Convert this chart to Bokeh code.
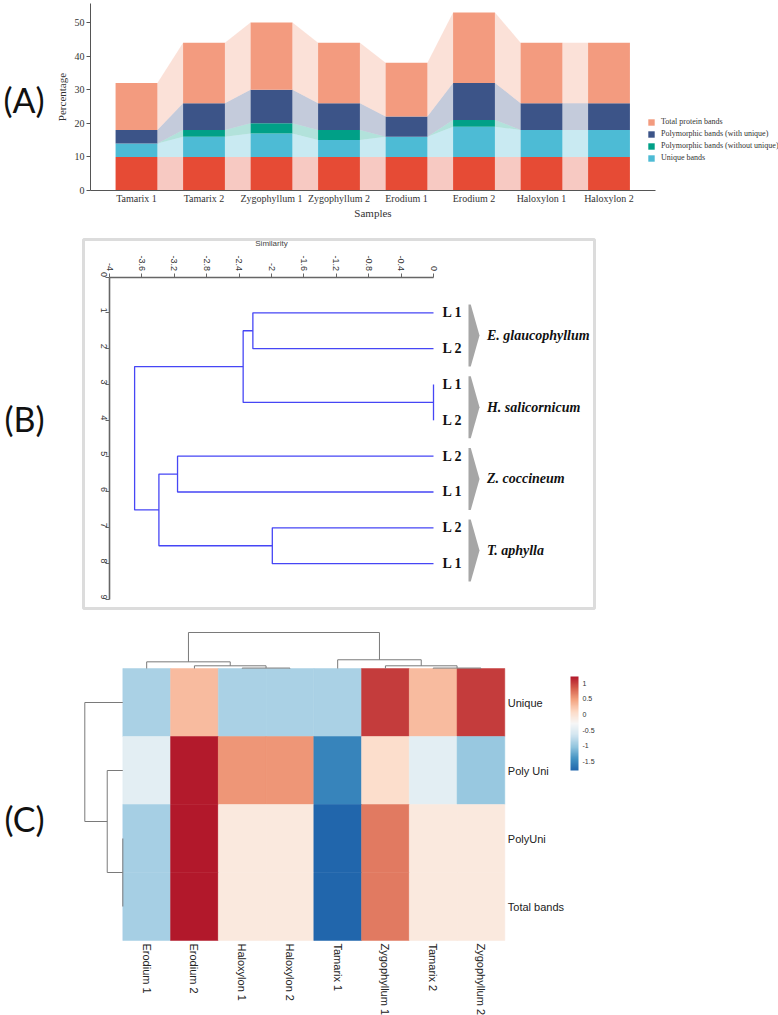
import numpy as np
from bokeh.plotting import figure
from bokeh.models import (Range1d, LinearAxis, FixedTicker, Legend, LegendItem, Label,
                          LinearColorMapper, ColorBar, ColumnDataSource, BoxAnnotation)
from bokeh.layouts import column
from bokeh.core.properties import value
from bokeh.transform import transform
from bokeh.embed import file_html
from bokeh.resources import INLINE

# ---------------- Panel A data ----------------
samples = ["Tamarix 1", "Tamarix 2", "Zygophyllum 1", "Zygophyllum 2",
           "Erodium 1", "Erodium 2", "Haloxylon 1", "Haloxylon 2"]
base_bands = [10, 10, 10, 10, 10, 10, 10, 10]
unique_bands = [4, 6, 7, 5, 6, 9, 8, 8]
poly_without_unique = [0, 2, 3, 3, 0, 2, 0, 0]
poly_with_unique = [4, 8, 10, 8, 6, 11, 8, 8]
total_protein = [14, 18, 20, 18, 16, 21, 18, 18]
y_ticks_a = [0, 10, 20, 30, 40, 50]

# ---------------- Panel B data ----------------
sim_ticks = [-4.0, -3.6, -3.2, -2.8, -2.4, -2.0, -1.6, -1.2, -0.8, -0.4, 0.0]
sim_tick_labels = ["-4", "-3.6", "-3.2", "-2.8", "-2.4", "-2", "-1.6", "-1.2", "-0.8", "-0.4", "0"]
row_ticks_b = [0, 1, 2, 3, 4, 5, 6, 7, 8, 9]
leaf_positions_b = [1, 2, 3, 4, 5, 6, 7, 8]
leaf_labels_b = ["L 1", "L 2", "L 1", "L 2", "L 2", "L 1", "L 2", "L 1"]
# (child a, child b, similarity); leaves 0..7, new nodes 8..
merges_b = [(2, 3, 0.0), (0, 1, -2.23), (9, 8, -2.35), (4, 5, -3.16),
            (6, 7, -1.99), (11, 12, -3.39), (10, 13, -3.69)]
species = ["E. glaucophyllum", "H. salicornicum", "Z. coccineum", "T. aphylla"]
species_first_leaf = [1, 3, 5, 7]
species_last_leaf = [2, 4, 6, 8]

# ---------------- Panel C data ----------------
hm_cols = ["Erodium 1", "Erodium 2", "Haloxylon 1", "Haloxylon 2",
           "Tamarix 1", "Zygophyllum 1", "Tamarix 2", "Zygophyllum 2"]
hm_rows = ["Unique", "Poly Uni", "PolyUni", "Total bands"]
z_unique = [-0.9, 0.3, -0.9, -0.9, -0.9, 1.03, 0.3, 1.03]
z_poly_uni = [-0.48, 1.2, 0.54, 0.54, -1.55, 0.05, -0.48, -1.0]
z_polyuni = [-0.92, 1.22, -0.1, -0.1, -1.8, 0.69, -0.1, -0.1]
z_total = [-0.92, 1.22, -0.1, -0.1, -1.8, 0.69, -0.1, -0.1]
cbar_ticks = [-1.5, -1.0, -0.5, 0.0, 0.5, 1.0]
cbar_labels = ["-1.5", "-1", "-0.5", "0", "0.5", "1"]
col_merges = [(2, 3, 0.05), (1, 8, 0.3), (0, 9, 0.74), (6, 7, 0.05),
              (5, 11, 0.3), (4, 12, 0.97), (10, 13, 4.0)]
row_merges = [(2, 3, 0.0), (1, 4, 1.64), (0, 5, 4.0)]


def dendro_paths(leaf_pos, merges):
    pos = list(leaf_pos)
    hgt = [0.0] * len(leaf_pos)
    P, H = [], []
    for a, b, h in merges:
        P.append([pos[a], pos[a], pos[b], pos[b]])
        H.append([hgt[a], h, h, hgt[b]])
        pos.append((pos[a] + pos[b]) / 2)
        hgt.append(h)
    return P, H


SERIF = "Liberation Serif"
SANS = "Liberation Sans"
W = 778


def base_fig(h, xr, yr):
    p = figure(width=W, height=h, x_range=xr, y_range=yr, output_backend="svg",
               toolbar_location=None, x_axis_location=None, y_axis_location=None,
               min_border_left=0, min_border_right=0, min_border_top=0, min_border_bottom=0)
    p.xgrid.visible = False
    p.ygrid.visible = False
    p.outline_line_color = None
    return p


# =================== Panel A ===================
HA = 220
n = len(samples)
xs = np.arange(n)
pA = base_fig(HA, Range1d(-136 / 67.5, (W - 136) / 67.5), Range1d(-30 / 3.36, 190 / 3.36))

layers = [("base", base_bands, "#E64B35"),
          ("unique", unique_bands, "#4DBBD5"),
          ("pwo", poly_without_unique, "#00A087"),
          ("pw", poly_with_unique, "#3C5488"),
          ("total", total_protein, "#F39B7F")]
bw = 0.62
bottom = np.zeros(n)
renderers = {}
for name, vals, col in layers:
    top = bottom + np.array(vals, dtype=float)
    pxs, pys = [], []
    for i in range(n - 1):
        pxs.append([i + bw / 2, i + bw / 2, i + 1 - bw / 2, i + 1 - bw / 2])
        pys.append([bottom[i], top[i], top[i + 1], bottom[i + 1]])
    pA.patches(pxs, pys, fill_color=col, fill_alpha=0.3, line_color=None)
    renderers[name] = pA.vbar(x=xs, bottom=bottom, top=top, width=bw, fill_color=col, line_color=None)
    bottom = top

xax_a = LinearAxis(fixed_location=0, bounds=(-0.683, 7.683), ticker=FixedTicker(ticks=list(range(n))),
                   major_label_overrides={i: s for i, s in enumerate(samples)}, axis_label="Samples")
yax_a = LinearAxis(fixed_location=-0.683, bounds=(0, 55.6), ticker=FixedTicker(ticks=y_ticks_a),
                   axis_label="Percentage")
for ax in (xax_a, yax_a):
    ax.axis_line_color = "#555555"
    ax.minor_tick_line_color = None
    ax.major_tick_in = 0
    ax.major_label_text_font = SERIF
    ax.major_label_text_font_size = "10px"
    ax.major_label_text_color = "#333333"
    ax.axis_label_text_font = SERIF
    ax.axis_label_text_font_size = "11px"
    ax.axis_label_text_font_style = "normal"
    ax.axis_label_text_color = "#333333"
yax_a.major_tick_out = 4
yax_a.major_tick_line_color = "#555555"
yax_a.major_label_standoff = 2
yax_a.axis_label_standoff = 4
xax_a.major_tick_out = 0
xax_a.major_tick_line_color = None
xax_a.major_label_standoff = 2
xax_a.axis_label_standoff = 0
pA.add_layout(xax_a, "below")
pA.add_layout(yax_a, "left")

legend = Legend(items=[LegendItem(label="Total protein bands", renderers=[renderers["total"]]),
                       LegendItem(label="Polymorphic bands (with unique)", renderers=[renderers["pw"]]),
                       LegendItem(label="Polymorphic bands (without unique)", renderers=[renderers["pwo"]]),
                       LegendItem(label="Unique bands", renderers=[renderers["unique"]])],
                location=(647, 58), glyph_width=8, glyph_height=8, label_height=8,
                spacing=3, padding=0, margin=0, label_standoff=6,
                label_text_font=SERIF, label_text_font_size="8px", label_text_color="#333333",
                border_line_color=None, background_fill_alpha=0)
pA.add_layout(legend)
pA.add_layout(Label(x=3, y=HA - 99, x_units="screen", y_units="screen", text="(A)",
                    text_font="Lato", text_font_size="34px", text_baseline="middle",
                    text_color="#111111"))

# =================== Panel B ===================
HB = 400
pxu, pyu = 81.0, 35.83          # pixels per similarity unit / per row
x0b, y0b = 433.0, 56.5          # pixel of similarity 0 / row 0
pB = base_fig(HB, Range1d(-x0b / pxu, (W - x0b) / pxu), Range1d((HB - y0b) / pyu, -y0b / pyu))
pB.add_layout(BoxAnnotation(left=(83 - x0b) / pxu, right=(594 - x0b) / pxu,
                            top=(19 - y0b) / pyu, bottom=(388 - y0b) / pyu,
                            fill_alpha=0, line_color="#8a8a8a", line_width=3))

top_ax = LinearAxis(fixed_location=0, bounds=(-4, 0), ticker=FixedTicker(ticks=sim_ticks),
                    major_label_overrides={t: s for t, s in zip(sim_ticks, sim_tick_labels)},
                    axis_label="Similarity")
left_ax = LinearAxis(fixed_location=-4, bounds=(0, 9), ticker=FixedTicker(ticks=row_ticks_b))
for ax in (top_ax, left_ax):
    ax.major_label_orientation = -np.pi / 2
    ax.axis_line_color = "#666666"
    ax.axis_line_width = 1.6
    ax.major_tick_line_color = "#666666"
    ax.major_tick_in = 0
    ax.major_tick_out = 4
    ax.minor_tick_line_color = None
    ax.major_label_text_font = SANS
    ax.major_label_text_font_size = "9px"
    ax.major_label_text_color = "#333333"
    ax.major_label_standoff = 2
    ax.axis_label_text_font = SANS
    ax.axis_label_text_font_size = "8px"
    ax.axis_label_text_font_style = "normal"
    ax.axis_label_standoff = 5
pB.add_layout(top_ax, "above")
pB.add_layout(left_ax, "left")

Pb, Hb = dendro_paths(leaf_positions_b, merges_b)
pB.multi_line(xs=Hb, ys=Pb, line_color="#4646F5", line_width=1.3)
pB.text(x=[0.11] * len(leaf_positions_b), y=leaf_positions_b, text=leaf_labels_b,
        text_font=value(SERIF), text_font_style="bold", text_font_size="14px",
        text_baseline="middle", text_align="left", text_color="#111111")
chev_x, chev_y, sp_y = [], [], []
for f, l in zip(species_first_leaf, species_last_leaf):
    t, b = f - 0.23, l + 0.5
    m = (t + b) / 2
    chev_x.append([0.432, 0.46, 0.568, 0.46, 0.432])
    chev_y.append([t, t, m, b, b])
    sp_y.append(m)
pB.patches(chev_x, chev_y, fill_color="#a6a6a6", line_color=None)
pB.text(x=[0.66] * len(species), y=sp_y, text=species, text_font=value(SERIF),
        text_font_style="bold italic", text_font_size="14px", text_baseline="middle",
        text_align="left", text_color="#111111")
pB.add_layout(Label(x=4, y=HB - 198, x_units="screen", y_units="screen", text="(B)",
                    text_font="Lato", text_font_size="34px", text_baseline="middle",
                    text_color="#111111"))

# =================== Panel C ===================
HC = 395
cw, rh = 47.75, 68.0            # px per column / row
xl, yb = 122.3, 320.0           # heatmap left / bottom pixel
pC = base_fig(HC, Range1d(-xl / cw, (W - xl) / cw), Range1d(-(HC - yb) / rh, yb / rh))
ytop = yb - 4 * rh
pC.extra_y_ranges = {"cdy": Range1d(-(HC - ytop) / 9.0, ytop / 9.0)}
pC.extra_x_ranges = {"rdx": Range1d(xl / 9.5, -(W - xl) / 9.5)}

rdbu = ["#2166AC", "#4393C3", "#92C5DE", "#D1E5F0", "#F7F7F7",
        "#FDDBC7", "#F4A582", "#D6604D", "#B2182B"]
rgb = np.array([[int(c[i:i + 2], 16) for i in (1, 3, 5)] for c in rdbu], dtype=float)
tt = np.linspace(0, len(rdbu) - 1, 256)
palette = []
for v in tt:
    i0 = min(int(np.floor(v)), len(rdbu) - 2)
    fr = v - i0
    c = rgb[i0] * (1 - fr) + rgb[i0 + 1] * fr
    palette.append("#%02x%02x%02x" % tuple(int(round(k)) for k in c))
mapper = LinearColorMapper(palette=palette, low=-1.8, high=1.22)

row_y = [3.5, 2.5, 1.5, 0.5]
zrows = [z_unique, z_poly_uni, z_polyuni, z_total]
cx, cy, cz = [], [], []
for r, zr in enumerate(zrows):
    for c, z in enumerate(zr):
        cx.append(c + 0.5)
        cy.append(row_y[r])
        cz.append(z)
src = ColumnDataSource(dict(x=cx, y=cy, z=cz))
pC.rect(x="x", y="y", width=1, height=1, source=src, fill_color=transform("z", mapper),
        line_color=transform("z", mapper), line_width=0.5)

Pc, Hc = dendro_paths([i + 0.5 for i in range(len(hm_cols))], col_merges)
pC.multi_line(xs=Pc, ys=Hc, y_range_name="cdy", line_color="#7a7a7a", line_width=1)
Pr, Hr = dendro_paths(row_y, row_merges)
pC.multi_line(xs=Hr, ys=Pr, x_range_name="rdx", line_color="#7a7a7a", line_width=1)

bot_ax = LinearAxis(fixed_location=0, bounds=(0, 8),
                    ticker=FixedTicker(ticks=[i + 0.5 for i in range(len(hm_cols))]),
                    major_label_overrides={i + 0.5: s for i, s in enumerate(hm_cols)},
                    major_label_orientation=-np.pi / 2)
right_ax = LinearAxis(fixed_location=8, bounds=(0, 4), ticker=FixedTicker(ticks=row_y),
                      major_label_overrides={y: s for y, s in zip(row_y, hm_rows)})
for ax in (bot_ax, right_ax):
    ax.axis_line_color = None
    ax.major_tick_line_color = None
    ax.major_tick_in = 0
    ax.major_tick_out = 0
    ax.minor_tick_line_color = None
    ax.major_label_text_font = SANS
    ax.major_label_text_font_size = "11px"
    ax.major_label_text_color = "#222222"
    ax.major_label_standoff = 3
pC.add_layout(bot_ax, "below")
pC.add_layout(right_ax, "right")

cbar = ColorBar(color_mapper=mapper, ticker=FixedTicker(ticks=cbar_ticks),
                major_label_overrides={t: s for t, s in zip(cbar_ticks, cbar_labels)},
                width=8, height=94, location=(570, HC - 150), padding=0, margin=0,
                major_tick_line_color=None, minor_tick_line_color=None, bar_line_color=None,
                label_standoff=4, major_label_text_font=SANS, major_label_text_font_size="7px",
                major_label_text_color="#333333", background_fill_alpha=0, border_line_color=None)
pC.add_layout(cbar)
pC.add_layout(Label(x=4, y=HC - 198, x_units="screen", y_units="screen", text="(C)",
                    text_font="Lato", text_font_size="34px", text_baseline="middle",
                    text_color="#111111"))

layout = column(pA, pB, pC)
open("out.html", "w").write(file_html(layout, INLINE))
